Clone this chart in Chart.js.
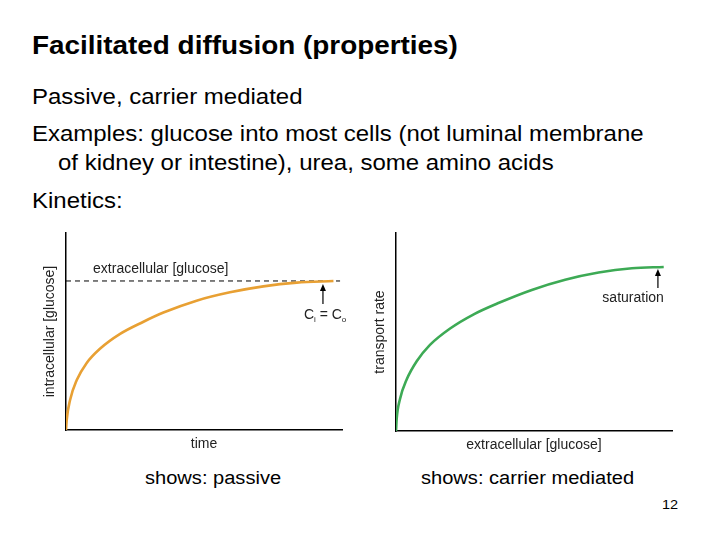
<!DOCTYPE html>
<html>
<head>
<meta charset="utf-8">
<script src="https://cdn.jsdelivr.net/npm/chart.js@4.4.1/dist/chart.umd.min.js"></script>
<style>
  body { margin: 0; background: #fff; font-family: "Liberation Sans", Arial, sans-serif; color: #000; }
  #slide { position: relative; width: 720px; height: 540px; overflow: hidden; }
  .t { position: absolute; white-space: nowrap; line-height: 1; transform: scaleX(1.115); transform-origin: 0 0; }
  .box { position: absolute; }
</style>
</head>
<body>
<div id="slide">
  <div class="t" style="left:32px;top:33px;font-size:25px;font-weight:bold">Facilitated diffusion (properties)</div>
  <div class="t" style="left:32px;top:86.8px;font-size:21.5px">Passive, carrier mediated</div>
  <div class="t" style="left:32px;top:123.8px;font-size:21.5px">Examples: glucose into most cells (not luminal membrane</div>
  <div class="t" style="left:58px;top:152.8px;font-size:21.5px">of kidney or intestine), urea, some amino acids</div>
  <div class="t" style="left:32px;top:190.8px;font-size:21.5px">Kinetics:</div>

  <div class="box" style="left:30px;top:225px;width:330px;height:230px"><canvas id="passiveChart"></canvas></div>
  <div class="box" style="left:365px;top:225px;width:320px;height:235px"><canvas id="carrierChart"></canvas></div>

  <div class="t" style="left:145px;top:469px;font-size:18px">shows: passive</div>
  <div class="t" style="left:421px;top:469px;font-size:18px">shows: carrier mediated</div>
  <div class="t" style="left:662px;top:498px;font-size:13px">12</div>
</div>

<script>
// passive diffusion: intracellular [glucose] vs time
const passiveTime = [0, 0.25, 1.45, 3.9, 7.5, 12.3, 19.6, 27.9, 35.3, 47.3, 59.4, 71.5, 83.6, 96.9];
const passiveConc = [0, 6.7, 20, 33.5, 45, 54.5, 64.5, 72.5, 78.8, 86.8, 92.4, 96.4, 98.9, 100];
// dashed extracellular level
const extraLevelX = [0, 99.3];
const extraLevelY = [100, 100];

// carrier mediated: transport rate vs extracellular [glucose]
const carrierGlucose = [0, 0.25, 1.45, 3.9, 7.5, 12.3, 19.6, 28, 37.1, 49.2, 61.3, 73.4, 85.5, 97];
const carrierRate = [0, 7.5, 19.5, 31.5, 42.5, 52.5, 62.5, 71, 78, 86, 92.2, 96.6, 99.2, 100];

// annotation anchors (data units)
const passiveArrow = [93.1, 84.6, 98.0];   // x, yFrom, yTo
const passiveLabel = [9.8, 105.4];        // "extracellular [glucose]"
const ciLabel = [86.2, 74.5];             // "Ci = Co"
const satArrow = [94.9, 87.2, 98.8];
const satLabel = [85.9, 78.7];

const FONT = 'Liberation Sans';
const TXT = '#222';

function toPoints(xs, ys) {
    return xs.map((x, i) => ({ x: x, y: ys[i] }));
}

function axis(title, max, pad) {
    return {
        type: 'linear',
        min: 0,
        max: max,
        ticks: { display: false },
        grid: { display: false, drawTicks: false },
        border: { display: true, color: '#000', width: 1.5 },
        title: { display: true, text: title, color: TXT, font: { family: FONT, size: 14 }, padding: pad }
    };
}

function drawArrow(ctx, x, y1, y2) {
    ctx.save();
    ctx.strokeStyle = '#000';
    ctx.fillStyle = '#000';
    ctx.lineWidth = 1.2;
    ctx.beginPath();
    ctx.moveTo(x, y1);
    ctx.lineTo(x, y2 + 5);
    ctx.stroke();
    ctx.beginPath();
    ctx.moveTo(x, y2);
    ctx.lineTo(x - 3, y2 + 7);
    ctx.lineTo(x + 3, y2 + 7);
    ctx.closePath();
    ctx.fill();
    ctx.restore();
}

const passiveNotes = {
    id: 'passiveNotes',
    afterDatasetsDraw(chart) {
        const { ctx, scales: { x, y } } = chart;
        drawArrow(ctx, x.getPixelForValue(passiveArrow[0]), y.getPixelForValue(passiveArrow[1]), y.getPixelForValue(passiveArrow[2]));
        ctx.save();
        ctx.fillStyle = TXT;
        ctx.font = '14px "' + FONT + '"';
        ctx.fillText('extracellular [glucose]', x.getPixelForValue(passiveLabel[0]), y.getPixelForValue(passiveLabel[1]));
        // C_i = C_o
        let cx = x.getPixelForValue(ciLabel[0]);
        const cy = y.getPixelForValue(ciLabel[1]);
        const parts = [['C', 14, 0], ['i', 8, 3], [' = ', 14, 0], ['C', 14, 0], ['o', 8, 3]];
        parts.forEach(p => {
            ctx.font = p[1] + 'px "' + FONT + '"';
            ctx.fillText(p[0], cx, cy + p[2]);
            cx += ctx.measureText(p[0]).width;
        });
        ctx.restore();
    }
};

const carrierNotes = {
    id: 'carrierNotes',
    afterDatasetsDraw(chart) {
        const { ctx, scales: { x, y } } = chart;
        drawArrow(ctx, x.getPixelForValue(satArrow[0]), y.getPixelForValue(satArrow[1]), y.getPixelForValue(satArrow[2]));
        ctx.save();
        ctx.fillStyle = TXT;
        ctx.font = '14px "' + FONT + '"';
        ctx.textAlign = 'center';
        ctx.fillText('saturation', x.getPixelForValue(satLabel[0]), y.getPixelForValue(satLabel[1]));
        ctx.restore();
    }
};

new Chart(document.getElementById('passiveChart').getContext('2d'), {
    type: 'line',
    data: {
        datasets: [{
            data: toPoints(passiveTime, passiveConc),
            borderColor: '#E8A033',
            borderWidth: 2.6,
            pointRadius: 0,
            cubicInterpolationMode: 'monotone'
        }, {
            data: toPoints(extraLevelX, extraLevelY),
            borderColor: '#000',
            borderWidth: 1,
            borderDash: [5, 4],
            pointRadius: 0
        }]
    },
    options: {
        responsive: true,
        maintainAspectRatio: false,
        animation: false,
        layout: { padding: { left: 7.6, top: 8, right: 18, bottom: 0.6 } },
        plugins: { legend: { display: false }, tooltip: { enabled: false } },
        scales: {
            x: axis('time', 100, { top: 5.6, bottom: 2 }),
            y: axis('intracellular [glucose]', 132.2, { top: 4, bottom: 7.6 })
        }
    },
    plugins: [passiveNotes]
});

new Chart(document.getElementById('carrierChart').getContext('2d'), {
    type: 'line',
    data: {
        datasets: [{
            data: toPoints(carrierGlucose, carrierRate),
            borderColor: '#3DAA55',
            borderWidth: 2.6,
            pointRadius: 0,
            cubicInterpolationMode: 'monotone'
        }]
    },
    options: {
        responsive: true,
        maintainAspectRatio: false,
        animation: false,
        layout: { padding: { left: 2.6, top: 8, right: 13, bottom: 4.6 } },
        plugins: { legend: { display: false }, tooltip: { enabled: false } },
        scales: {
            x: axis('extracellular [glucose]', 100, { top: 5.6, bottom: 2 }),
            y: axis('transport rate', 120.7, { top: 4, bottom: 7.6 })
        }
    },
    plugins: [carrierNotes]
});
</script>
</body>
</html>
